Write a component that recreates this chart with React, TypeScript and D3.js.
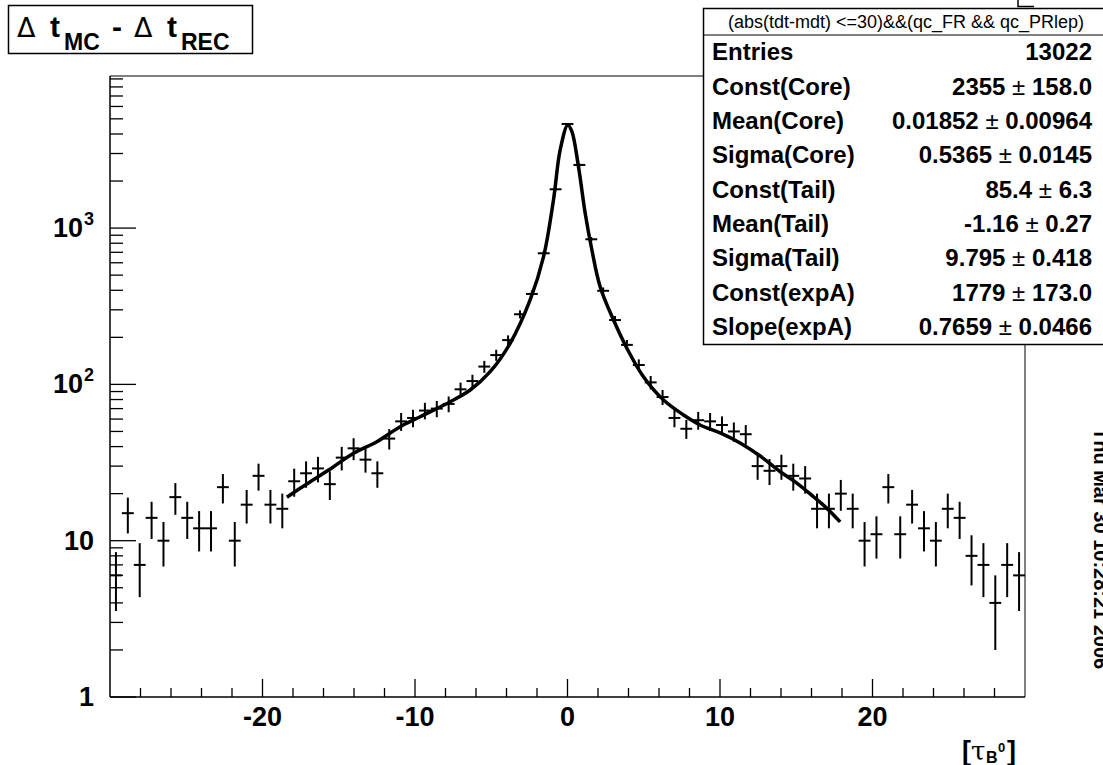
import React from "react";
import * as d3 from "d3";

const W = 1103;
const H = 765;

// Histogram binning (77 bins from -30 to 30)
const binLow = -30;
const binHigh = 30;
const counts = [
  6, 15, 7, 14, 10, 19, 14, 12, 12, 22,
  10, 17, 26, 17, 16, 24, 27, 29, 23, 34,
  39, 33, 27, 45, 58, 61,
  68, 70, 75, 93, 105, 130, 154, 192, 281, 379, 690, 1771,
  4636,
  2535, 848, 397, 258, 179, 133, 103, 83, 61, 52, 59,
  58, 55, 50, 48, 30, 28, 30,
  26, 25, 16, 16, 20, 16, 10, 11, 22, 11, 17, 12, 10, 16, 14, 8, 7, 4, 7, 6,
];

// Fit curve
const fitX = [
  -18.4, -17.53, -15.34, -14.03, -12.5, -10.97, -9.66, -7.69, -6.38, -5.07, -3.76,
  -2.45, -1.57, -0.92, -0.48, 0.02, 0.29, 0.72, 1.16, 1.6, 2.14, 3.02, 3.9, 4.98,
  6.3, 7.61, 8.7, 10.01, 11.32, 12.64, 13.95, 14.93, 16.13, 17.01, 17.88,
];
const fitY = [
  18.96, 21.64, 29.75, 36.25, 43.0, 53.6, 62.1, 77.5, 92.1, 120.6, 183.2,
  346.7, 656, 1514, 3162, 4570, 4140, 2472, 1244, 724, 422, 258, 170, 112,
  79.4, 63.7, 55.0, 48.9, 42.2, 34.8, 27.6, 23.8, 19.1, 16.1, 13.2,
];

const xMajorTicks = [-20, -10, 0, 10, 20];
const xTickLabels = ["-20", "-10", "0", "10", "20"];
const xMinorTicks = [-28, -26, -24, -22, -18, -16, -14, -12, -8, -6, -4, -2, 2, 4, 6, 8, 12, 14, 16, 18, 22, 24, 26, 28];
const yMajorTicks = [1, 10, 100, 1000];
const yTickBase = ["1", "10", "10", "10"];
const yTickExp = ["", "", "2", "3"];

const statHeader = "(abs(tdt-mdt) <=30)&&(qc_FR && qc_PRlep)";
const statLabels = [
  "Entries", "Const(Core)", "Mean(Core)", "Sigma(Core)", "Const(Tail)",
  "Mean(Tail)", "Sigma(Tail)", "Const(expA)", "Slope(expA)",
];
const statValues = ["13022", "2355", "0.01852", "0.5365", "85.4", "-1.16", "9.795", "1779", "0.7659"];
const statErrors = ["", "158.0", "0.00964", "0.0145", "6.3", "0.27", "0.418", "173.0", "0.0466"];

const dateStamp = "Thu Mar 30 10:28:21 2006";

const FONT = "'Liberation Sans', Arial, Helvetica, sans-serif";

export default function App() {
  const frame = { left: 110, right: 1025, top: 76, bottom: 697 };
  const yMax = Math.pow(10, 3.973);
  const x = d3.scaleLinear().domain([binLow, binHigh]).range([frame.left, frame.right]);
  const y = d3.scaleLog().domain([1, yMax]).range([frame.bottom, frame.top]);
  const bw = (binHigh - binLow) / counts.length;
  const bins = counts.map((c, i) => ({
    x0: binLow + i * bw,
    x1: binLow + (i + 1) * bw,
    xc: binLow + (i + 0.5) * bw,
    c,
    e: Math.sqrt(c),
  }));

  const yMinor: number[] = [];
  for (const d of [1, 10, 100, 1000]) {
    for (let k = 2; k <= 9; k++) {
      if (d * k <= yMax) yMinor.push(d * k);
    }
  }

  const fitPts = fitX.map((v, i) => [v, fitY[i]] as [number, number]);
  const line = d3
    .line<[number, number]>()
    .x((d) => x(d[0]))
    .y((d) => y(d[1]))
    .curve(d3.curveCatmullRom.alpha(0.5));

  const statTop = 8;
  const statBottom = 344;
  const headerBottom = 35;
  const rowH = (statBottom - headerBottom) / statLabels.length;

  return (
    <div style={{ position: "absolute", left: 0, top: 0 }}>
      <svg width={W} height={H} viewBox={`0 0 ${W} ${H}`} style={{ display: "block", background: "#fff" }} fontFamily={FONT}>
        <rect x={0} y={0} width={W} height={H} fill="#fff" />

        {/* frame */}
        <line x1={frame.left} x2={frame.right} y1={frame.top} y2={frame.top} stroke="#000" strokeWidth={1} />
        <line x1={frame.right} x2={frame.right} y1={frame.top} y2={frame.bottom} stroke="#000" strokeWidth={1} />
        <line x1={frame.left} x2={frame.left} y1={frame.top} y2={frame.bottom} stroke="#000" strokeWidth={1.5} />
        <line x1={frame.left} x2={frame.right} y1={frame.bottom} y2={frame.bottom} stroke="#000" strokeWidth={1.5} />

        {/* x ticks */}
        {xMajorTicks.map((t, i) => (
          <g key={"xm" + i}>
            <line x1={x(t)} x2={x(t)} y1={frame.bottom} y2={frame.bottom - 18} stroke="#000" strokeWidth={1.3} />
            <text x={x(t)} y={726} textAnchor="middle" fontSize={27} fontWeight="bold">
              {xTickLabels[i]}
            </text>
          </g>
        ))}
        {xMinorTicks.map((t, i) => (
          <line key={"xn" + i} x1={x(t)} x2={x(t)} y1={frame.bottom} y2={frame.bottom - 9} stroke="#000" strokeWidth={1.3} />
        ))}

        {/* y ticks */}
        {yMajorTicks.map((t, i) => (
          <g key={"ym" + i}>
            <line x1={frame.left} x2={frame.left + 26} y1={y(t)} y2={y(t)} stroke="#000" strokeWidth={1.3} />
            {yTickExp[i] ? (
              <text x={83} y={y(t) + 9} textAnchor="end" fontSize={27} fontWeight="bold">
                {yTickBase[i]}
                <tspan x={84} dy={-12} fontSize={18} textAnchor="start">{yTickExp[i]}</tspan>
              </text>
            ) : (
              <text x={94} y={y(t) + 9} textAnchor="end" fontSize={27} fontWeight="bold">
                {yTickBase[i]}
              </text>
            )}
          </g>
        ))}
        {yMinor.map((t, i) => (
          <line key={"yn" + i} x1={frame.left} x2={frame.left + 13} y1={y(t)} y2={y(t)} stroke="#000" strokeWidth={1.3} />
        ))}

        {/* histogram points with errors */}
        {bins.map((b, i) => (
          <g key={"b" + i} stroke="#000" strokeWidth={2}>
            <line x1={x(b.x0)} x2={x(b.x1)} y1={y(b.c)} y2={y(b.c)} />
            <line x1={x(b.xc)} x2={x(b.xc)} y1={y(Math.max(b.c - b.e, 1))} y2={y(b.c + b.e)} />
          </g>
        ))}

        {/* fit curve */}
        <path d={line(fitPts) || ""} fill="none" stroke="#000" strokeWidth={3.5} strokeLinejoin="round" />

        {/* axis title */}
        <text y={760} fontWeight="bold" fontSize={27}>
          <tspan x={962}>[</tspan>
          <tspan x={971} fontWeight="normal" fontSize={26} fontFamily="'DejaVu Serif', serif">τ</tspan>
          <tspan x={986} dy={3} fontSize={16}>B</tspan>
          <tspan x={998} dy={-11} fontSize={13}>0</tspan>
          <tspan x={1007} dy={8}>]</tspan>
        </text>

        {/* title box */}
        <rect x={8.5} y={5.5} width={244} height={48} fill="#fff" stroke="#000" strokeWidth={1.5} />
        <text y={37} fontSize={30} fontWeight="bold">
          <tspan x={17} fontWeight="normal" fontFamily="'DejaVu Sans', sans-serif" fontSize={27}>Δ</tspan>
          <tspan x={50}>t</tspan>
          <tspan x={64} dy={13} fontSize={23}>MC</tspan>
          <tspan x={112} dy={-13}>-</tspan>
          <tspan x={134} fontWeight="normal" fontFamily="'DejaVu Sans', sans-serif" fontSize={27}>Δ</tspan>
          <tspan x={167}>t</tspan>
          <tspan x={181} dy={13} fontSize={23}>REC</tspan>
        </text>

        {/* stats box */}
        <rect x={703.5} y={statTop + 0.5} width={W} height={statBottom - statTop} fill="#fff" stroke="#000" strokeWidth={1.5} />
        <line x1={703.5} x2={W} y1={headerBottom} y2={headerBottom} stroke="#000" strokeWidth={1} />
        <text x={906} y={28} textAnchor="middle" fontSize={18}>
          {statHeader}
        </text>
        {statLabels.map((lab, i) => {
          const cy = headerBottom + rowH * (i + 0.5) + 8;
          return (
            <g key={"s" + i}>
              <text x={712} y={cy} fontSize={24} fontWeight="bold">
                {lab}
              </text>
              <text x={1092} y={cy} textAnchor="end" fontSize={24} fontWeight="bold">
                {statErrors[i] ? (
                  <>
                    {statValues[i]}
                    <tspan fontWeight="normal">{" ± "}</tspan>
                    {statErrors[i]}
                  </>
                ) : (
                  statValues[i]
                )}
              </text>
            </g>
          );
        })}

        {/* small mark top right */}
        <path d="M1018,0 V6.5 H1034" fill="none" stroke="#000" strokeWidth={1.5} />

        {/* date stamp */}
        <text transform="translate(1094,428) rotate(90)" fontSize={20} fontWeight="bold">
          {dateStamp}
        </text>
      </svg>
    </div>
  );
}
